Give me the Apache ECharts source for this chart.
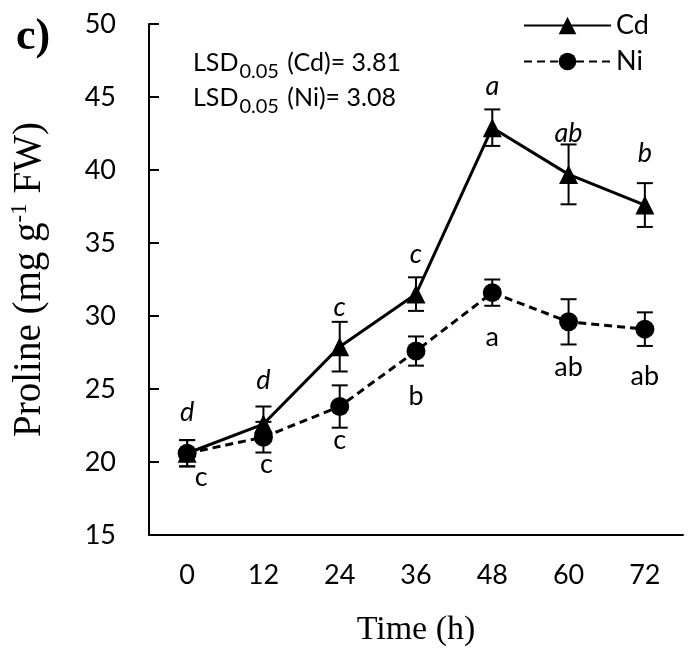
<!DOCTYPE html>
<html>
<head>
<meta charset="utf-8">
<script src="https://cdn.jsdelivr.net/npm/echarts@6/dist/echarts.min.js"></script>
<style>
  html, body { margin: 0; padding: 0; background: #fff; }
  #container { width: 695px; height: 653px; }
</style>
</head>
<body>
<div id="container"></div>
<script>
// datos
var hours = ['0', '12', '24', '36', '48', '60', '72'];
var cdMean = [20.6, 22.6, 27.9, 31.5, 42.9, 39.7, 37.6];
var cdErr = [0.9, 1.2, 1.7, 1.15, 1.25, 2.05, 1.5];
var niMean = [20.6, 21.7, 23.8, 27.6, 31.6, 29.6, 29.1];
var niErr = [0.9, 1.05, 1.45, 1.0, 0.9, 1.55, 1.15];
var cdLetters = ['d', 'd', 'c', 'c', 'a', 'ab', 'b'];
var niLetters = ['c', 'c', 'c', 'b', 'a', 'ab', 'ab'];
var lsdCd = '3.81';
var lsdNi = '3.08';

// desplazamientos de las letras respecto a la barra de error (px)
var cdLetterOffset = [[0, -28], [0, -26], [0, -15], [0, -23], [0, -23], [0, -11], [0, -30]];
var niLetterOffset = [[14, 11], [3, 12], [0, 13], [0, 31], [0, 32], [0, 23], [0, 30]];

var sansFont = 'Lato';
var serifFont = 'Liberation Serif';

document.addEventListener('DOMContentLoaded', function () {
    var dom = document.getElementById('container');
    var myChart = echarts.init(dom, null, { renderer: 'canvas' });

    function errorData(mean, err) {
        return mean.map(function (m, i) { return [i, m - err[i], m + err[i]]; });
    }

    function errorSeries(mean, err) {
        return {
            type: 'custom',
            silent: true,
            z: 1,
            data: errorData(mean, err),
            renderItem: function (params, api) {
                var lo = api.coord([api.value(0), api.value(1)]);
                var hi = api.coord([api.value(0), api.value(2)]);
                var w = 8;
                var style = { stroke: '#000', lineWidth: 2 };
                return {
                    type: 'group',
                    children: [
                        { type: 'line', shape: { x1: hi[0], y1: hi[1], x2: lo[0], y2: lo[1] }, style: style },
                        { type: 'line', shape: { x1: hi[0] - w, y1: hi[1], x2: hi[0] + w, y2: hi[1] }, style: style },
                        { type: 'line', shape: { x1: lo[0] - w, y1: lo[1], x2: lo[0] + w, y2: lo[1] }, style: style }
                    ]
                };
            }
        };
    }

    function letterSeries(mean, err, letters, offsets, up, italic) {
        return {
            type: 'scatter',
            silent: true,
            symbolSize: 0,
            z: 5,
            itemStyle: { opacity: 1 },
            data: mean.map(function (m, i) {
                return {
                    value: [i, up ? m + err[i] : m - err[i]],
                    label: { offset: offsets[i] }
                };
            }),
            label: {
                show: true,
                position: 'inside',
                color: '#000',
                opacity: 1,
                fontFamily: sansFont,
                fontSize: 27,
                fontStyle: italic ? 'italic' : 'normal',
                formatter: function (p) { return letters[p.dataIndex]; }
            }
        };
    }

    var lsdRich = {
        a: { fontFamily: sansFont, fontSize: 25, fill: '#000', verticalAlign: 'bottom' },
        b: { fontFamily: sansFont, fontSize: 20, fill: '#000', verticalAlign: 'bottom', padding: [0, 2, -7, 1] }
    };

    var option = {
        animation: false,
        backgroundColor: '#fff',
        grid: { left: 145, right: 12, top: 24, bottom: 118 },
        legend: {
            orient: 'vertical',
            left: 518,
            top: 7,
            itemWidth: 87,
            itemHeight: 22,
            itemGap: 9,
            textStyle: { fontFamily: sansFont, fontSize: 27, color: '#000' },
            data: ['Cd', 'Ni']
        },
        xAxis: {
            type: 'category',
            data: hours,
            boundaryGap: true,
            axisLine: { lineStyle: { color: '#000', width: 2 } },
            axisTick: { inside: true, length: 10, lineStyle: { color: '#000', width: 2 } },
            axisLabel: { color: '#000', fontFamily: sansFont, fontSize: 27, margin: 27 },
            splitLine: { show: false },
            name: 'Time (h)',
            nameLocation: 'middle',
            nameGap: 78,
            nameTextStyle: { fontFamily: serifFont, fontSize: 34, color: '#000' }
        },
        yAxis: {
            type: 'value',
            min: 15,
            max: 50,
            interval: 5,
            axisLine: { show: true, lineStyle: { color: '#000', width: 2 } },
            axisTick: { show: true, inside: true, length: 10, lineStyle: { color: '#000', width: 2 } },
            axisLabel: { color: '#000', fontFamily: sansFont, fontSize: 27, margin: 33 },
            splitLine: { show: false },
            name: '{n|Proline (mg g}{s|-1}{n| FW)}',
            nameLocation: 'middle',
            nameGap: 98,
            nameTextStyle: {
                rich: {
                    n: { fontFamily: serifFont, fontSize: 39, color: '#000' },
                    s: { fontFamily: serifFont, fontSize: 23, color: '#000', verticalAlign: 'top', padding: [0, 0, 20, 0] }
                }
            }
        },
        graphic: [
            {
                type: 'text', left: 16, top: 16,
                style: { text: 'c)', font: 'bold 44px "Liberation Serif"', fill: '#000' }
            },
            {
                type: 'text', left: 193, top: 50,
                style: { text: '{a|LSD}{b|0.05}{a| (Cd)= ' + lsdCd + '}', rich: lsdRich }
            },
            {
                type: 'text', left: 193, top: 85,
                style: { text: '{a|LSD}{b|0.05}{a| (Ni)= ' + lsdNi + '}', rich: lsdRich }
            }
        ],
        series: [
            errorSeries(cdMean, cdErr),
            errorSeries(niMean, niErr),
            {
                name: 'Ni',
                type: 'line',
                data: niMean,
                symbol: 'circle',
                symbolSize: 19,
                z: 3,
                lineStyle: { color: '#000', width: 3, type: [8, 5] },
                itemStyle: { color: '#000' }
            },
            {
                name: 'Cd',
                type: 'line',
                data: cdMean,
                symbol: 'triangle',
                symbolSize: 19,
                z: 2,
                lineStyle: { color: '#000', width: 3 },
                itemStyle: { color: '#000' }
            },
            letterSeries(cdMean, cdErr, cdLetters, cdLetterOffset, true, true),
            letterSeries(niMean, niErr, niLetters, niLetterOffset, false, false)
        ]
    };

    myChart.setOption(option);
    window.addEventListener('resize', myChart.resize);
});
</script>
</body>
</html>
